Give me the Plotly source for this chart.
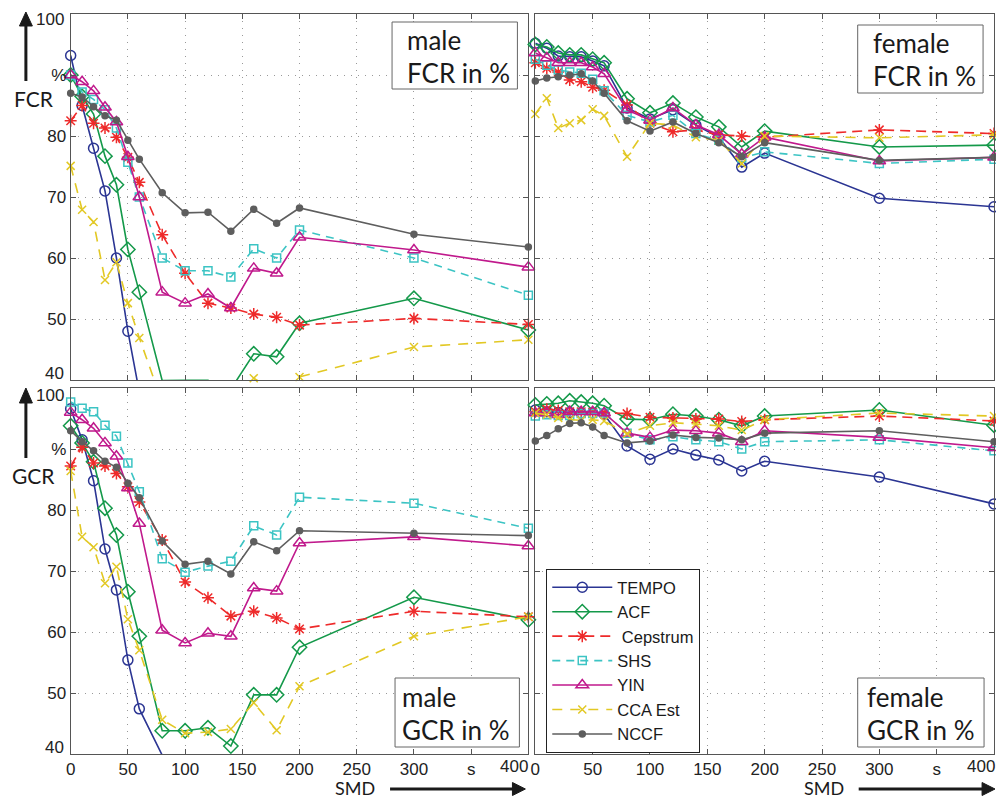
import plotly.graph_objects as go

# ---------------------------------------------------------------- data
smd = [0, 10, 20, 30, 40, 50, 60, 80, 100, 120, 140, 160, 180, 200, 300, 400]

methods = ["TEMPO", "ACF", " Cepstrum", "SHS", "YIN", "CCA Est", "NCCF"]

x_tick_vals = [0, 50, 100, 150, 200, 250, 300, 350, 400]
x_tick_text = ["0", "50", "100", "150", "200", "250", "300", "s", ""]
y_tick_vals = [40, 50, 60, 70, 80, 90, 100]
y_tick_text = ["", "50", "60", "70", "80", "%", ""]

# male FCR (%)
tempo_male_fcr = [93.2, 85.0, 78.0, 71.0, 60.0, 48.0, 38.0, None, None, None, None, None, None, None, None, None]
acf_male_fcr = [90.0, 86.5, 83.6, 76.7, 72.0, 61.4, 54.4, 39.9, 39.95, 39.95, 38.5, 44.3, 43.8, 49.3, 53.4, 48.2]
cep_male_fcr = [82.5, 85.0, 82.1, 81.3, 79.8, 76.5, 72.4, 63.8, 57.5, 52.6, 51.8, 50.8, 50.3, 49.0, 50.1, 49.1]
shs_male_fcr = [90.0, 87.2, 86.0, 84.3, 81.3, 75.7, 70.0, 60.0, 57.9, 57.9, 56.9, 61.5, 60.0, 64.6, 60.0, 53.9]
yin_male_fcr = [90.0, 88.9, 87.4, 84.7, 82.3, 76.6, 70.0, 54.4, 52.6, 54.1, 51.8, 58.3, 57.5, 63.4, 61.3, 58.5]
cca_male_fcr = [75.1, 67.9, 65.9, 56.4, 59.3, 52.6, 46.9, 36.3, 35.0, 35.5, 36.0, 40.3, 38.0, 40.5, 45.4, 46.6]
nccf_male_fcr = [87.0, 86.4, 84.8, 83.3, 82.6, 79.3, 76.2, 70.7, 67.4, 67.5, 64.4, 68.0, 65.7, 68.2, 63.9, 61.8]

# female FCR (%)
tempo_female_fcr = [95.2, 94.4, 93.1, 93.0, 93.0, 92.3, 91.5, 84.6, 82.8, 84.3, 81.8, 79.8, 74.9, 77.2, 69.8, 68.4]
acf_female_fcr = [95.0, 94.6, 93.6, 93.3, 93.3, 92.6, 92.0, 86.1, 83.8, 85.4, 83.1, 81.5, 78.2, 80.8, 78.2, 78.5]
cep_female_fcr = [92.0, 91.1, 90.5, 89.2, 88.9, 88.0, 87.5, 85.1, 82.1, 80.7, 81.0, 80.2, 80.0, 79.8, 81.0, 80.4]
shs_female_fcr = [92.6, 91.6, 90.8, 90.5, 90.3, 89.3, 87.4, 83.4, 82.3, 83.4, 80.4, 79.3, 76.4, 77.4, 75.5, 76.2]
yin_female_fcr = [93.6, 92.8, 92.0, 92.0, 92.0, 91.3, 90.2, 84.3, 82.6, 84.6, 81.8, 80.2, 77.0, 79.8, 75.9, 76.5]
cca_female_fcr = [83.6, 86.2, 81.3, 82.1, 82.6, 84.4, 83.3, 76.6, 82.1, 81.8, 79.8, 79.3, 75.5, 80.0, 79.7, 80.2]
nccf_female_fcr = [89.0, 89.5, 89.7, 90.0, 90.2, 89.0, 87.0, 82.5, 80.8, 82.3, 80.4, 78.9, 76.6, 78.9, 76.0, 76.5]

# male GCR (%)
tempo_male_gcr = [96.6, 91.5, 84.8, 73.6, 66.9, 55.4, 47.4, 39.8, None, None, None, None, None, None, None, None]
acf_male_gcr = [93.8, 91.0, 87.9, 80.3, 75.9, 66.6, 59.3, 43.8, 43.8, 44.3, 41.3, 49.7, 49.7, 57.5, 65.7, 62.0]
cep_male_gcr = [87.2, 90.3, 87.7, 87.2, 86.0, 83.8, 81.3, 75.1, 68.2, 65.6, 62.6, 63.4, 62.3, 60.5, 63.4, 62.5]
shs_male_gcr = [97.7, 96.7, 96.1, 93.9, 92.1, 87.7, 83.0, 72.0, 69.8, 70.8, 71.6, 77.4, 75.9, 82.1, 81.1, 77.0]
yin_male_gcr = [96.0, 94.8, 93.4, 91.0, 88.8, 83.6, 77.8, 60.3, 58.2, 59.8, 59.3, 67.2, 66.7, 74.6, 75.6, 74.1]
cca_male_gcr = [86.4, 75.6, 73.9, 68.0, 70.7, 62.1, 57.0, 45.6, 43.4, 43.6, 44.1, 48.4, 43.9, 51.1, 59.3, 62.5]
nccf_male_gcr = [93.0, 91.2, 89.7, 88.0, 87.0, 84.4, 82.0, 74.9, 71.1, 71.6, 69.5, 74.8, 73.3, 76.6, 76.2, 75.8]

# female GCR (%)
tempo_female_gcr = [96.4, 96.1, 96.0, 96.0, 95.9, 95.9, 95.7, 90.5, 88.3, 90.0, 89.0, 88.2, 86.4, 88.0, 85.4, 81.0]
acf_female_gcr = [97.2, 97.4, 97.5, 97.9, 97.7, 97.5, 97.1, 94.9, 94.8, 95.7, 95.4, 94.8, 93.8, 95.4, 96.4, 93.9]
cep_female_gcr = [96.1, 96.5, 96.3, 96.1, 96.1, 96.0, 95.9, 95.8, 95.2, 95.1, 94.9, 94.9, 94.5, 94.8, 95.4, 94.6]
shs_female_gcr = [95.4, 95.6, 95.5, 95.5, 95.8, 95.8, 95.9, 92.6, 91.5, 92.0, 91.5, 91.2, 90.0, 91.2, 91.5, 89.7]
yin_female_gcr = [95.9, 95.9, 95.6, 96.1, 96.1, 96.1, 95.9, 92.6, 91.9, 93.1, 93.0, 92.6, 91.2, 93.0, 91.9, 90.2]
cca_female_gcr = [95.9, 95.6, 95.1, 94.8, 94.7, 94.8, 94.6, 92.5, 93.8, 94.3, 94.1, 93.8, 93.1, 94.8, 95.9, 95.4]
nccf_female_gcr = [91.3, 92.2, 93.3, 94.2, 94.3, 93.6, 92.2, 91.0, 91.3, 92.3, 91.9, 91.8, 91.5, 92.6, 93.0, 91.2]

# ---------------------------------------------------------------- styles
colors = ["#2b3593", "#14994a", "#ee2a2a", "#3cc4c4", "#c0198c", "#e2c824", "#5e5e5e"]
symbols = ["circle-open", "diamond-open", "asterisk-open", "square-open",
           "triangle-up-open", "x-thin-open", "circle"]
msizes = [10, 11, 10, 8, 11, 8, 6]
dashes = ["solid", "solid", "10px,6px", "8px,6px", "solid", "10px,8px", "solid"]

W, H = 996, 800
Y_MIN, Y_MAX = 40, 100


def fx(px):
    return px / W


def fy(py):
    return 1 - py / H


panels = [
    ("x", "y", [tempo_male_fcr, acf_male_fcr, cep_male_fcr, shs_male_fcr,
                yin_male_fcr, cca_male_fcr, nccf_male_fcr]),
    ("x2", "y2", [tempo_female_fcr, acf_female_fcr, cep_female_fcr, shs_female_fcr,
                  yin_female_fcr, cca_female_fcr, nccf_female_fcr]),
    ("x3", "y3", [tempo_male_gcr, acf_male_gcr, cep_male_gcr, shs_male_gcr,
                  yin_male_gcr, cca_male_gcr, nccf_male_gcr]),
    ("x4", "y4", [tempo_female_gcr, acf_female_gcr, cep_female_gcr, shs_female_gcr,
                  yin_female_gcr, cca_female_gcr, nccf_female_gcr]),
]


def marker_style(k):
    return dict(symbol=symbols[k], size=msizes[k], color=colors[k],
                line=dict(color=colors[k], width=1.5))


def line_style(k):
    return dict(color=colors[k], width=1.6, dash=dashes[k])


fig = go.Figure()
for pi, (xa, ya, series) in enumerate(panels):
    for k, vals in enumerate(series):
        # connecting line, clipped to the axes box
        fig.add_trace(go.Scatter(
            x=smd, y=vals, xaxis=xa, yaxis=ya, mode="lines", cliponaxis=True,
            line=line_style(k), showlegend=False, hoverinfo="skip"))
        # markers whose centres lie inside the value range, drawn in full
        xs = [s for s, v in zip(smd, vals) if v is not None and Y_MIN <= v <= Y_MAX]
        ys = [v for v in vals if v is not None and Y_MIN <= v <= Y_MAX]
        fig.add_trace(go.Scatter(
            x=xs, y=ys, xaxis=xa, yaxis=ya, mode="markers", cliponaxis=False,
            marker=marker_style(k), showlegend=False, name=methods[k]))

# legend entries
for k, name in enumerate(methods):
    fig.add_trace(go.Scatter(
        x=[None], y=[None], xaxis="x4", yaxis="y4", mode="lines+markers",
        name=name, line=line_style(k), marker=marker_style(k), showlegend=True))

tick_font = dict(family="Liberation Sans, Arial, sans-serif", size=17, color="#222")
axis_common = dict(
    showline=True, linecolor="#555", linewidth=1, mirror="ticks",
    ticks="inside", ticklen=5, tickcolor="#555",
    showgrid=True, gridcolor="#999", gridwidth=1, griddash="1px,6px",
    zeroline=False, tickfont=tick_font,
)

dom_left = [fx(66), fx(526)]
dom_right = [fx(533), fx(994)]
dom_top = [fy(380), fy(14)]
dom_bot = [fy(754), fy(388)]

layout_axes = {}
for i, (xd, yd, show_x, show_y) in enumerate([
        (dom_left, dom_top, False, True),
        (dom_right, dom_top, False, False),
        (dom_left, dom_bot, True, True),
        (dom_right, dom_bot, True, False)]):
    n = "" if i == 0 else str(i + 1)
    layout_axes["xaxis" + n] = dict(
        axis_common, domain=xd, range=[0, 400], anchor="y" + n,
        tickvals=x_tick_vals, ticktext=x_tick_text, showticklabels=show_x,
        ticklabelstandoff=0)
    layout_axes["yaxis" + n] = dict(
        axis_common, domain=yd, range=[Y_MIN, Y_MAX], anchor="x" + n,
        tickvals=y_tick_vals, ticktext=y_tick_text, showticklabels=show_y)

fig.update_layout(**layout_axes)

label_font = dict(family="Lato, Liberation Sans, sans-serif", size=26, color="#1a1a1a")
side_font = dict(family="Lato, Liberation Sans, sans-serif", size=21, color="#1a1a1a")

shapes = []
annotations = []

# end tick labels, nudged inside the panel height
for txt, ly in [("100", 19), ("40", 373), ("100", 395), ("40", 747)]:
    annotations.append(dict(text=txt, xref="paper", yref="paper", x=fx(61), y=fy(ly),
                            xanchor="right", yanchor="middle", showarrow=False,
                            font=tick_font))
for cx in (512, 981):
    annotations.append(dict(text="400", xref="paper", yref="paper", x=fx(cx), y=fy(766),
                            xanchor="center", yanchor="middle", showarrow=False,
                            font=tick_font))

# panel caption boxes
captions = [
    (389, 22, 515, 89, 402, ["male", "FCR in %"], 40, 73),
    (857, 25, 983, 93, 870, ["female", "FCR in %"], 43, 76),
    (392, 678, 517, 747, 397, ["male", "GCR in %"], 697, 730),
    (857, 678, 984, 747, 864, ["female", "GCR in %"], 697, 730),
]
for x0, y0, x1, y1, tx, lines, ly0, ly1 in captions:
    shapes.append(dict(type="rect", xref="paper", yref="paper",
                       x0=fx(x0), x1=fx(x1), y0=fy(y1), y1=fy(y0),
                       line=dict(color="#666", width=1), fillcolor="white", layer="above"))
    for txt, ly in zip(lines, [ly0, ly1]):
        annotations.append(dict(text=txt, xref="paper", yref="paper",
                                x=fx(tx), y=fy(ly), xanchor="left", yanchor="middle",
                                showarrow=False, font=label_font))

# vertical arrows with quantity names
for top, bottom, base, word, wy in [(12, 81, 26, "FCR", 98), (388, 458, 403, "GCR", 475)]:
    shapes.append(dict(type="line", xref="paper", yref="paper",
                       x0=fx(21), x1=fx(21), y0=fy(bottom), y1=fy(base),
                       line=dict(color="#1a1a1a", width=3)))
    shapes.append(dict(type="path", xref="paper", yref="paper",
                       path=f"M {fx(14.5)},{fy(base)} L {fx(27.5)},{fy(base)} L {fx(21)},{fy(top)} Z",
                       fillcolor="#1a1a1a", line=dict(color="#1a1a1a", width=1)))
    annotations.append(dict(text=word, xref="paper", yref="paper", x=fx(29), y=fy(wy),
                            xanchor="center", yanchor="middle", showarrow=False, font=side_font))

# horizontal SMD arrows
for cx, x0, x1 in [(352, 387, 523), (823, 858, 995)]:
    shapes.append(dict(type="line", xref="paper", yref="paper",
                       x0=fx(x0), x1=fx(x1 - 10), y0=fy(789), y1=fy(789),
                       line=dict(color="#1a1a1a", width=3)))
    shapes.append(dict(type="path", xref="paper", yref="paper",
                       path=f"M {fx(x1 - 13)},{fy(782.5)} L {fx(x1 - 13)},{fy(795.5)} L {fx(x1)},{fy(789)} Z",
                       fillcolor="#1a1a1a", line=dict(color="#1a1a1a", width=1)))
    annotations.append(dict(text="SMD", xref="paper", yref="paper", x=fx(cx), y=fy(800),
                            xanchor="center", yanchor="bottom", showarrow=False, borderpad=0,
                            font=dict(family="Lato, Liberation Sans, sans-serif", size=18, color="#1a1a1a")))

fig.update_layout(
    width=W, height=H,
    margin=dict(l=0, r=0, t=0, b=0),
    paper_bgcolor="white", plot_bgcolor="white",
    shapes=shapes, annotations=annotations,
    showlegend=True,
    legend=dict(x=fx(544), y=fy(569), xanchor="left", yanchor="top",
                bgcolor="white", bordercolor="#222", borderwidth=1,
                font=dict(family="Liberation Sans, Arial, sans-serif", size=16.5, color="#1a1a1a"),
                itemwidth=60, tracegroupgap=0),
)

fig.write_html("out.html")
